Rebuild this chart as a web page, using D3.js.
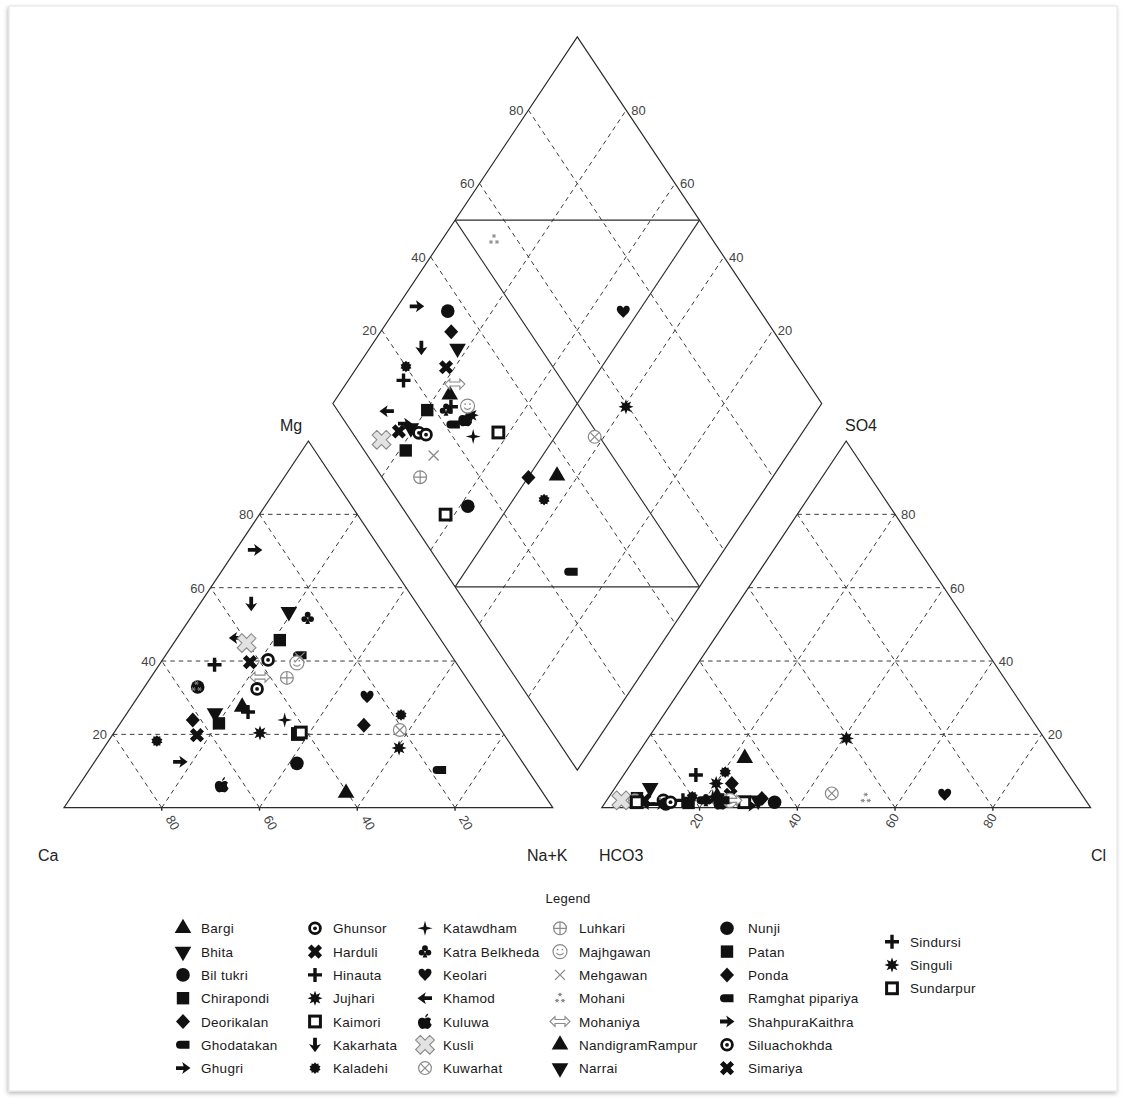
<!DOCTYPE html>
<html>
<head>
<meta charset="utf-8">
<script src="https://cdn.jsdelivr.net/npm/d3@7/dist/d3.min.js"></script>
<style>
  body { margin: 0; background: #fff; }
  svg { display: block; font-family: "Liberation Sans", Arial, sans-serif; }
</style>
</head>
<body>
<svg id="chart" width="1125" height="1098"></svg>
<script>
// ---- Sample sites and their marker style ----
const sites = ["Bargi","Bhita","Bil tukri","Chirapondi","Deorikalan","Ghodatakan","Ghugri",
  "Ghunsor","Harduli","Hinauta","Jujhari","Kaimori","Kakarhata","Kaladehi","Kaladehi",
  "Katawdham","Katra Belkheda","Keolari","Khamod","Kuluwa","Kusli","Kuwarhat",
  "Luhkari","Majhgawan","Mehgawan","Mohani","Mohaniya","NandigramRampur","Narrai",
  "Nunji","Patan","Ponda","Ramghat pipariya","ShahpuraKaithra","Siluachokhda","Simariya",
  "Sindursi","Singuli","Sundarpur"];
const symbolKeys = ["triUp","triDown","circle","square","diamond","ghoda","arrowR",
  "ringdot","xBold","plus","asterisk","hollowSq","arrowD","kaladehi","kaladehi",
  "star4","club","heart","arrowL","apple","kusli","otimes",
  "oplus","smiley","xThin","mohani","dblArrow","triUp","triDown",
  "circle","square","diamond","ghoda","arrowR","ringdot","xBold",
  "plus","asterisk","hollowSq"];

// ---- Cation percentages (meq %) ----
const caPct  = [49.8,27.3,56.2,33.0,61.7,30.9,25.8,38.1,42.1,49.3,49.7,42.1,33.9,71.9,18.4,
  42.9,24.3,22.9,41.6,64.6,40.2,20.7,36.7,32.6,31.3,56.4,42.1,40.3,56.2,
  46.3,56.8,27.4,18.0,70.0,44.3,62.9,49.7,23.3,41.3];
const mgPct  = [27.5,53.4,32.9,45.7,23.9,41.6,70.3,40.3,39.7,26.1,20.4,20.1,55.6,18.2,25.3,
  23.9,51.7,30.2,46.3,6.2,44.9,21.2,35.4,39.5,41.0,33.0,35.6,4.0,25.8,
  12.1,23.0,22.5,10.3,12.5,32.4,19.8,39.0,16.3,20.5];
const nakPct = [22.7,19.3,10.9,21.3,14.4,27.5,3.9,21.6,18.2,24.6,29.9,37.8,10.5,9.9,56.3,
  33.2,24.0,46.9,12.1,29.2,14.9,58.1,27.9,27.9,27.7,10.6,22.3,55.7,18.0,
  41.6,20.2,50.1,71.7,17.5,23.3,17.3,11.3,60.4,38.2];

// ---- Anion percentages (meq %) ----
const hco3Pct = [74.9,87.4,63.9,91.5,66.0,78.2,69.6,86.4,71.9,76.3,73.3,70.1,74.3,80.0,69.9,
  75.8,77.7,28.1,90.0,75.0,95.0,51.0,92.2,72.8,86.5,44.7,72.4,64.0,67.0,
  86.4,81.6,70.1,74.2,88.0,85.2,90.3,82.4,40.5,92.1];
const so4Pct  = [3.0,5.4,1.5,2.6,2.5,2.0,0.5,2.0,3.5,8.9,6.6,1.5,2.0,3.0,9.7,
  3.0,2.0,3.5,1.0,1.5,2.0,3.9,2.0,2.0,1.5,2.6,2.0,13.5,2.0,
  1.0,1.3,6.6,2.0,1.0,1.5,2.0,2.0,18.9,1.5];
const clPct   = [22.1,7.2,34.6,5.9,31.5,19.8,29.9,11.6,24.6,14.8,20.1,28.4,23.7,17.0,20.4,
  21.2,20.3,68.4,9.0,23.5,3.0,45.1,5.8,25.2,12.0,52.7,25.6,22.5,31.0,
  12.6,17.1,23.3,23.8,11.0,13.3,7.7,15.6,40.6,6.4];

const gridTicks = [20, 40, 60, 80];
const tickLabels = ["20", "40", "60", "80"];

// ---- Layout ----
const svg = d3.select("#chart");
const SIDE = 488.8, TRI_H = 366.7, BASE_Y = 807.7;
const CAT_X0 = 64, AN_X0 = 601.8;
const DM_CX = 577.3, DM_CY = 403.5;
const INK = "#2b2b2b", GRID = "#3a3a3a", BLACK = "#111", GRAY = "#8a8a8a";

const catX = d3.scaleLinear().domain([0, 100]).range([CAT_X0, CAT_X0 + SIDE]);
const anX  = d3.scaleLinear().domain([0, 100]).range([AN_X0, AN_X0 + SIDE]);
const triY = d3.scaleLinear().domain([0, 100]).range([BASE_Y, BASE_Y - TRI_H]);
const dmX  = d3.scaleLinear().domain([0, 200]).range([DM_CX - SIDE / 2, DM_CX + SIDE / 2]);
const dmY  = d3.scaleLinear().domain([-100, 100]).range([DM_CY + TRI_H, DM_CY - TRI_H]);

// ternary -> screen helpers
const catPos = (nak, mg) => [catX(nak + mg / 2), triY(mg)];
const anPos  = (cl, so4) => [anX(cl + so4 / 2), triY(so4)];
const dmPos  = (nak, sc) => [dmX(nak + sc), dmY(sc - nak)];   // sc = SO4 + Cl

// ---- Frame with soft shadow ----
const defs = svg.append("defs");
const f = defs.append("filter").attr("id", "shadow").attr("x", "-5%").attr("y", "-5%")
  .attr("width", "110%").attr("height", "110%");
f.append("feDropShadow").attr("dx", -1).attr("dy", 2).attr("stdDeviation", 2.2)
  .attr("flood-color", "#000").attr("flood-opacity", 0.28);
svg.append("rect").attr("x", 9).attr("y", 6).attr("width", 1108).attr("height", 1085)
  .attr("fill", "#fff").attr("stroke", "#e2e2e2").attr("filter", "url(#shadow)");

const plot = svg.append("g");
const line = d3.line();

function seg(g, a, b, dashed, w) {
  g.append("path").attr("d", line([a, b])).attr("fill", "none")
    .attr("stroke", dashed ? GRID : INK).attr("stroke-width", w || (dashed ? 1 : 1.1))
    .attr("stroke-dasharray", dashed ? "4.5,4" : null);
}

// ---- Grids ----
const gGrid = plot.append("g");
gridTicks.forEach(t => {
  // cation triangle
  seg(gGrid, catPos(0, t), catPos(100 - t, t), true);
  seg(gGrid, catPos(t, 0), catPos(t, 100 - t), true);
  seg(gGrid, catPos(100 - t, 0), catPos(0, 100 - t), true);
  // anion triangle
  seg(gGrid, anPos(0, t), anPos(100 - t, t), true);
  seg(gGrid, anPos(t, 0), anPos(t, 100 - t), true);
  seg(gGrid, anPos(100 - t, 0), anPos(0, 100 - t), true);
  // diamond
  seg(gGrid, dmPos(t, 0), dmPos(t, 100), true);
  seg(gGrid, dmPos(0, t), dmPos(100, t), true);
});
// diamond inner field lines
seg(gGrid, dmPos(50, 0), dmPos(50, 100), false);
seg(gGrid, dmPos(0, 50), dmPos(100, 50), false);
seg(gGrid, dmPos(0, 50), dmPos(50, 100), false);
seg(gGrid, dmPos(50, 0), dmPos(100, 50), false);

// ---- Outlines ----
const gOut = plot.append("g").attr("fill", "none").attr("stroke", INK).attr("stroke-width", 1.2);
gOut.append("path").attr("d", line([catPos(0, 0), catPos(100, 0), catPos(0, 100)]) + "Z");
gOut.append("path").attr("d", line([anPos(0, 0), anPos(100, 0), anPos(0, 100)]) + "Z");
gOut.append("path").attr("d", line([dmPos(0, 0), dmPos(100, 0), dmPos(100, 100), dmPos(0, 100)]) + "Z");

// small ticks on the bottom axes
gridTicks.forEach(t => {
  [catX(t), anX(t)].forEach(x => seg(gOut, [x, BASE_Y], [x, BASE_Y + 3], false, 1.4));
});

// ---- Tick labels ----
const gLab = plot.append("g").attr("fill", "#444").attr("font-size", 13);
gridTicks.forEach((t, i) => {
  const txt = tickLabels[i];
  let p = catPos(0, t);
  gLab.append("text").attr("x", p[0] - 6).attr("y", p[1] + 5).attr("text-anchor", "end").text(txt);
  p = anPos(100 - t, t);
  gLab.append("text").attr("x", p[0] + 6).attr("y", p[1] + 5).attr("text-anchor", "start").text(txt);
  p = dmPos(0, t);
  gLab.append("text").attr("x", p[0] - 5).attr("y", p[1] + 5).attr("text-anchor", "end").text(txt);
  p = dmPos(100 - t, 100);
  gLab.append("text").attr("x", p[0] + 5).attr("y", p[1] + 5).attr("text-anchor", "start").text(txt);
  // Ca along the cation base, Cl along the anion base
  const cx = catX(100 - t);
  gLab.append("text").attr("transform", `translate(${cx + 11},${BASE_Y + 15}) rotate(60)`)
    .attr("text-anchor", "middle").attr("dy", "0.35em").text(txt);
  const ax = anX(t);
  gLab.append("text").attr("transform", `translate(${ax - 3},${BASE_Y + 13}) rotate(-60)`)
    .attr("text-anchor", "middle").attr("dy", "0.35em").text(txt);
});

// ---- Axis names ----
const gAx = plot.append("g").attr("fill", "#222").attr("font-size", 16);
gAx.append("text").attr("x", 38).attr("y", 861).text("Ca");
gAx.append("text").attr("x", 527).attr("y", 861).text("Na+K");
gAx.append("text").attr("x", 599).attr("y", 861).text("HCO3");
gAx.append("text").attr("x", 1091).attr("y", 861).text("Cl");
gAx.append("text").attr("x", 280).attr("y", 431).text("Mg");
gAx.append("text").attr("x", 845).attr("y", 431).text("SO4");

// ---- Marker shapes ----
function starPath(n, ro, ri) {
  const pts = [];
  for (let i = 0; i < 2 * n; i++) {
    const r = i % 2 ? ri : ro, a = Math.PI * i / n - Math.PI / 2;
    pts.push([r * Math.cos(a), r * Math.sin(a)]);
  }
  return line(pts) + "Z";
}
const ARROW = "M0,7.5 L-6,-0.8 L-1.9,0.6 L-1.9,-7 L1.9,-7 L1.9,0.6 L6,-0.8Z";
const markerDraw = {
  triUp: g => g.append("path").attr("d", d3.symbol(d3.symbolTriangle, 120)()).attr("fill", BLACK),
  triDown: g => g.append("path").attr("d", d3.symbol(d3.symbolTriangle, 120)()).attr("transform", "rotate(180)").attr("fill", BLACK),
  circle: g => g.append("circle").attr("r", 6.8).attr("fill", BLACK),
  square: g => g.append("rect").attr("x", -6.2).attr("y", -6.2).attr("width", 12.4).attr("height", 12.4).attr("fill", BLACK),
  diamond: g => g.append("path").attr("d", "M0,-7.5 L7,0 L0,7.5 L-7,0Z").attr("fill", BLACK),
  ghoda: g => g.append("path").attr("d", "M-7,0 Q-7,-4 -3,-4 L6.5,-4 L6.5,4 L-3,4 Q-7,4 -7,0Z").attr("fill", BLACK),
  arrowR: g => g.append("path").attr("d", ARROW).attr("transform", "rotate(-90)").attr("fill", BLACK),
  arrowL: g => g.append("path").attr("d", ARROW).attr("transform", "rotate(90)").attr("fill", BLACK),
  arrowD: g => g.append("path").attr("d", ARROW).attr("fill", BLACK),
  ringdot: g => {
    g.append("circle").attr("r", 5.4).attr("fill", "#fff").attr("stroke", BLACK).attr("stroke-width", 2.8);
    g.append("circle").attr("r", 1.9).attr("fill", BLACK);
  },
  xBold: g => g.append("path").attr("d", d3.symbol(d3.symbolCross, 125)()).attr("transform", "rotate(45)").attr("fill", BLACK),
  plus: g => g.append("path").attr("d", "M-7,-1.7 H7 V1.7 H-7Z M-1.7,-7 H1.7 V7 H-1.7Z").attr("fill", BLACK),
  asterisk: g => g.append("path").attr("d", starPath(8, 7.5, 3.8)).attr("fill", BLACK),
  hollowSq: g => g.append("rect").attr("x", -5.4).attr("y", -5.4).attr("width", 10.8).attr("height", 10.8)
    .attr("fill", "#fff").attr("stroke", BLACK).attr("stroke-width", 3),
  kaladehi: g => g.append("path").attr("d", starPath(10, 5.8, 4.4)).attr("fill", BLACK),
  star4: g => g.append("path").attr("d", starPath(4, 7.5, 2.2)).attr("fill", BLACK),
  club: g => {
    [[0, -3.4], [-3.4, 1], [3.4, 1]].forEach(c => g.append("circle").attr("cx", c[0]).attr("cy", c[1]).attr("r", 2.9).attr("fill", BLACK));
    g.append("path").attr("d", "M0,0 L-2.4,6 L2.4,6Z").attr("fill", BLACK);
  },
  heart: g => g.append("path").attr("d", "M0,6 C-3,3 -6.5,0.5 -6.5,-2.8 C-6.5,-5.8 -3.8,-6.8 -1.9,-5.8 C-0.9,-5.3 0,-4.3 0,-3.3 C0,-4.3 0.9,-5.3 1.9,-5.8 C3.8,-6.8 6.5,-5.8 6.5,-2.8 C6.5,0.5 3,3 0,6Z").attr("fill", BLACK),
  apple: g => {
    g.append("path").attr("d", "M0,-3 C-2,-4.5 -7,-4.5 -7,1 C-7,5 -4,7.8 -2,7.4 C-1,7 1,7 2,7.4 C4,7.8 6.2,5 6.7,3 C5,2 4.4,-1 6.1,-2 C5,-4.4 2,-4.5 0,-3Z").attr("fill", BLACK);
    g.append("path").attr("d", "M0.2,-4 C0.2,-6 1.6,-7.4 3.2,-7.9 C3.1,-6 2,-4.5 0.2,-4Z").attr("fill", BLACK);
  },
  kusli: g => g.append("path").attr("d", d3.symbol(d3.symbolCross, 220)()).attr("transform", "rotate(45)")
    .attr("fill", "#e2e2e2").attr("stroke", GRAY).attr("stroke-width", 1.1),
  otimes: g => {
    g.append("circle").attr("r", 6.4).attr("fill", "#fff").attr("stroke", GRAY).attr("stroke-width", 1.2);
    g.append("path").attr("d", "M-4.5,-4.5 L4.5,4.5 M-4.5,4.5 L4.5,-4.5").attr("stroke", GRAY).attr("stroke-width", 1.2);
  },
  oplus: g => {
    g.append("circle").attr("r", 6.4).attr("fill", "#fff").attr("stroke", GRAY).attr("stroke-width", 1.2);
    g.append("path").attr("d", "M-6.4,0 H6.4 M0,-6.4 V6.4").attr("stroke", GRAY).attr("stroke-width", 1.2);
  },
  smiley: g => {
    g.append("circle").attr("r", 7).attr("fill", "#fff").attr("stroke", GRAY).attr("stroke-width", 1.2);
    g.append("circle").attr("cx", -2.4).attr("cy", -2).attr("r", 0.9).attr("fill", GRAY);
    g.append("circle").attr("cx", 2.4).attr("cy", -2).attr("r", 0.9).attr("fill", GRAY);
    g.append("path").attr("d", "M-3.5,1.5 Q0,5 3.5,1.5").attr("fill", "none").attr("stroke", GRAY).attr("stroke-width", 1.1);
  },
  xThin: g => g.append("path").attr("d", "M-5,-5 L5,5 M-5,5 L5,-5").attr("stroke", GRAY).attr("stroke-width", 1.3),
  mohani: g => {
    [[0, -3.6], [-3, 2.4], [3, 2.4]].forEach(c => {
      const s = g.append("g").attr("transform", `translate(${c[0]},${c[1]})`);
      s.append("path").attr("d", "M-2.1,0 H2.1 M-1.1,-1.8 L1.1,1.8 M-1.1,1.8 L1.1,-1.8")
        .attr("stroke", GRAY).attr("stroke-width", 1);
    });
  },
  dblArrow: g => g.append("path").attr("d", "M-10,0 L-5,-5 L-5,-2 L5,-2 L5,-5 L10,0 L5,5 L5,2 L-5,2 L-5,5Z")
    .attr("fill", "#fff").attr("stroke", GRAY).attr("stroke-width", 1.1)
};
function placeMarker(parent, key, p) {
  const g = parent.append("g").attr("transform", `translate(${p[0]},${p[1]})`);
  markerDraw[key](g);
}

// ---- Samples: cation, anion and projected diamond points ----
const samples = sites.map((s, i) => ({
  site: s, key: symbolKeys[i],
  ca: caPct[i], mg: mgPct[i], nak: nakPct[i],
  hco3: hco3Pct[i], so4: so4Pct[i], cl: clPct[i]
}));
const gPts = plot.append("g");
samples.forEach(d => placeMarker(gPts, d.key, catPos(d.nak, d.mg)));
samples.forEach(d => placeMarker(gPts, d.key, anPos(d.cl, d.so4)));
samples.forEach(d => placeMarker(gPts, d.key, dmPos(d.nak, d.so4 + d.cl)));

// ---- Legend ----
const legendSites = [];
samples.forEach(d => { if (!legendSites.find(e => e.site === d.site)) legendSites.push(d); });
const legColMarkX = [183, 315, 425, 560, 727, 892];
const legColTextX = [201, 333, 443, 579, 748, 910];
const legRowY0 = 928.3, legRowStep = 23.3;
const gLeg = svg.append("g").attr("font-size", 13.5).attr("fill", "#1a1a1a").attr("letter-spacing", 0.3);
gLeg.append("text").attr("x", 568).attr("y", 903).attr("text-anchor", "middle").attr("font-size", 13).text("Legend");
legendSites.forEach((d, i) => {
  const col = Math.floor(i / 7), row = i % 7;
  const y = legRowY0 + row * legRowStep + (col === 5 ? 13.4 : 0);
  placeMarker(gLeg, d.key, [legColMarkX[col], y]);
  gLeg.append("text").attr("x", legColTextX[col]).attr("y", y + 5).text(d.site);
});
</script>
</body>
</html>
